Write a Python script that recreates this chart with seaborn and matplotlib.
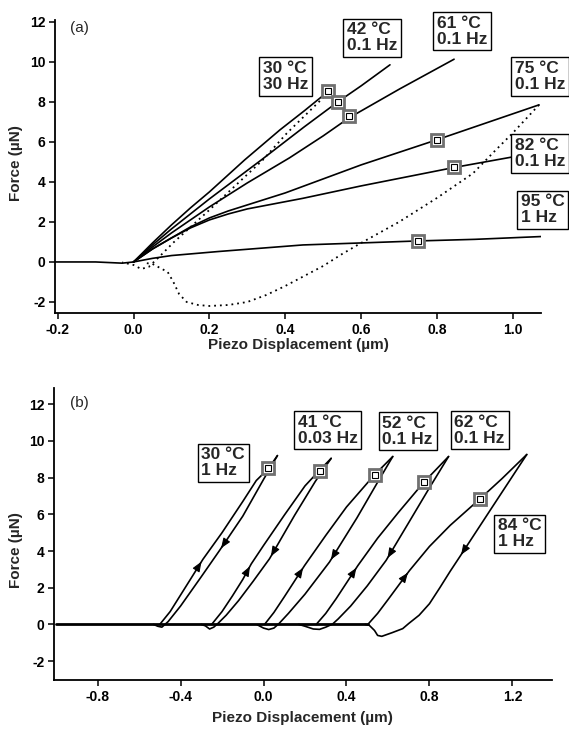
import numpy as np
import seaborn as sns
import matplotlib.pyplot as plt

sns.set_theme(style="ticks")
plt.rcParams['font.family'] = ['Liberation Sans', 'DejaVu Sans']
plt.rcParams['font.weight'] = 'bold'
plt.rcParams['axes.labelweight'] = 'bold'
plt.rcParams['axes.unicode_minus'] = False

# ---- panel (a): loading curves at several temperatures ----
a_labels = ["30 °C\n30 Hz", "42 °C\n0.1 Hz", "61 °C\n0.1 Hz", "75 °C\n0.1 Hz", "82 °C\n0.1 Hz", "95 °C\n1 Hz"]
a_x = [
    [0, 0.05, 0.1, 0.15, 0.2, 0.293, 0.386, 0.45, 0.513],
    [0, 0.05, 0.1, 0.2, 0.337, 0.45, 0.538, 0.6, 0.676],
    [0, 0.05, 0.1, 0.2, 0.3, 0.411, 0.5, 0.568, 0.702, 0.845],
    [0, 0.05, 0.1, 0.15, 0.2, 0.25, 0.3, 0.35, 0.4, 0.45, 0.6, 0.799, 1.069],
    [0, 0.05, 0.1, 0.15, 0.2, 0.25, 0.3, 0.4465, 0.6, 0.845, 1.0, 1.07],
    [0, 0.05, 0.1, 0.2225, 0.4465, 0.6, 0.75, 0.9, 1.075],
]
a_y = [
    [0, 0.95, 1.85, 2.7, 3.5, 5.1, 6.6, 7.55, 8.52],
    [0, 0.85, 1.65, 3.15, 5.1, 6.75, 7.99, 8.8, 9.85],
    [0, 0.75, 1.45, 2.75, 3.95, 5.2, 6.3, 7.2, 8.65, 10.13],
    [0, 0.65, 1.2, 1.75, 2.2, 2.55, 2.85, 3.15, 3.45, 3.8, 4.85, 6.1, 7.85],
    [0, 0.65, 1.2, 1.7, 2.1, 2.4, 2.65, 3.18, 3.8, 4.72, 5.25, 5.4],
    [0, 0.18, 0.32, 0.52, 0.85, 0.95, 1.05, 1.13, 1.27],
]
a_mark_x = [0.513, 0.538, 0.568, 0.799, 0.845, 0.75]
a_mark_y = [8.52, 7.99, 7.3, 6.1, 4.72, 1.05]
# dotted unloading traces (30 C and 75 C)
a_dot_x = [
    [0.513, 0.404, 0.341, 0.2, 0.104, 0.07, 0.04, 0.02, 0.0, -0.03],
    [1.069, 1.0, 0.95, 0.895, 0.8, 0.7, 0.6, 0.55, 0.5, 0.44, 0.4, 0.35, 0.3, 0.25, 0.2, 0.17,
     0.14, 0.12, 0.105, 0.09, 0.07, 0.05, 0.03],
]
a_dot_y = [
    [8.45, 6.43, 5.1, 2.6, 0.95, 0.3, -0.25, -0.35, -0.15, -0.02],
    [7.85, 6.45, 5.5, 4.43, 3.2, 2.0, 0.95, 0.4, -0.2, -0.8, -1.2, -1.65, -2.0, -2.15, -2.2, -2.15,
     -2.0, -1.6, -1.0, -0.5, -0.3, -0.1, -0.05],
]
a_base_x = [-0.207, -0.1, -0.03, 0.0]
a_base_y = [0.0, 0.0, -0.06, 0.0]
a_lab_x = [0.341, 0.562, 0.800, 1.005, 1.005, 1.021]
a_lab_y = [9.28, 11.2, 11.53, 9.28, 5.43, 2.6]

# ---- panel (b): loading/unloading loops ----
b_labels = ["30 °C\n1 Hz", "41 °C\n0.03 Hz", "52 °C\n0.1 Hz", "62 °C\n0.1 Hz", "84 °C\n1 Hz"]
b_load_x = [
    [-0.50, -0.45, -0.40, -0.35, -0.292, -0.2, -0.1, -0.035, 0.024, 0.067],
    [-0.25, -0.2, -0.15, -0.1, -0.059, 0.0, 0.1, 0.2, 0.27, 0.326],
    [0.005, 0.05, 0.1, 0.198, 0.3, 0.4, 0.5, 0.535, 0.623],
    [0.254, 0.3, 0.35, 0.455, 0.55, 0.65, 0.773, 0.892],
    [0.503, 0.55, 0.6, 0.704, 0.8, 0.9, 1.044, 1.15, 1.269],
]
b_load_y = [
    [0, 0.7, 1.6, 2.5, 3.55, 5.0, 6.7, 7.84, 8.5, 9.2],
    [0, 0.7, 1.55, 2.45, 3.3, 4.3, 5.95, 7.55, 8.4, 9.05],
    [0, 0.65, 1.5, 3.21, 4.85, 6.4, 7.7, 8.15, 9.15],
    [0, 0.6, 1.4, 3.21, 4.7, 6.1, 7.75, 9.15],
    [0, 0.6, 1.35, 2.94, 4.25, 5.4, 6.85, 7.95, 9.26],
]
b_unload_x = [
    [0.067, 0.0, -0.1, -0.212, -0.3, -0.4, -0.46, -0.48, -0.49, -0.51, -0.53],
    [0.326, 0.25, 0.15, 0.029, -0.05, -0.12, -0.18, -0.22, -0.24, -0.26, -0.28, -0.3],
    [0.623, 0.55, 0.45, 0.318, 0.2, 0.12, 0.075, 0.05, 0.025, 0.0, -0.03],
    [0.892, 0.8, 0.7, 0.591, 0.5, 0.42, 0.36, 0.333, 0.3, 0.27, 0.24, 0.2, 0.17],
    [1.269, 1.1, 0.945, 0.9, 0.85, 0.8, 0.75, 0.7, 0.671, 0.62, 0.57, 0.55, 0.535, 0.51, 0.49],
]
b_unload_y = [
    [9.2, 7.9, 5.9, 4.03, 2.6, 1.0, 0.15, -0.05, -0.15, -0.1, 0],
    [9.05, 7.8, 5.95, 3.58, 2.35, 1.3, 0.5, 0.05, -0.15, -0.25, -0.08, 0],
    [9.15, 7.75, 5.8, 3.4, 1.65, 0.6, 0.05, -0.2, -0.28, -0.2, -0.02],
    [9.15, 7.45, 5.55, 3.49, 2.1, 1.0, 0.3, 0.02, -0.15, -0.27, -0.25, -0.1, 0],
    [9.26, 6.35, 3.67, 2.9, 2.0, 1.13, 0.5, 0.05, -0.23, -0.45, -0.65, -0.6, -0.33, -0.05, 0],
]
b_arrow_load = [-0.292, -0.059, 0.198, 0.455, 0.704]
b_arrow_unload = [-0.212, 0.029, 0.318, 0.591, 0.945]
b_mark_x = [0.024, 0.27, 0.535, 0.773, 1.044]
b_mark_y = [8.53, 8.35, 8.15, 7.75, 6.85]
b_base_x = [-1.0, -0.5, 0.0, 0.503]
b_base_y = [0.0, 0.0, 0.0, 0.0]
b_lab_x = [-0.299, 0.164, 0.573, 0.920, 1.128]
b_lab_y = [8.80, 10.59, 10.54, 10.59, 4.93]

fig = plt.figure(figsize=(5.69, 7.33), dpi=100)
ax1 = fig.add_axes([0.0967, 0.573, 0.854, 0.400])
ax2 = fig.add_axes([0.0949, 0.0723, 0.875, 0.398])

lw = 1.2
box = dict(boxstyle="square,pad=0.22", fc="white", ec="black", lw=1.0)


def squares(ax, xs, ys):
    ax.plot(xs, ys, 's', ms=9, mfc='white', mec='#707070', mew=2.0, zorder=6, clip_on=False)
    ax.plot(xs, ys, 's', ms=5, mfc='white', mec='black', mew=0.8, zorder=7, clip_on=False)


# panel (a)
sns.lineplot(x=a_base_x, y=a_base_y, ax=ax1, color='black', lw=lw, sort=False, estimator=None)
for xs, ys in zip(a_x, a_y):
    sns.lineplot(x=xs, y=ys, ax=ax1, color='black', lw=lw, sort=False, estimator=None)
for xs, ys in zip(a_dot_x, a_dot_y):
    sns.lineplot(x=xs, y=ys, ax=ax1, color='black', lw=1.3, sort=False, estimator=None,
                 linestyle=(0, (1, 2.2)))
squares(ax1, a_mark_x, a_mark_y)
for t, x, y in zip(a_labels, a_lab_x, a_lab_y):
    ax1.text(x, y, t, ha='left', va='center', fontsize=12.5, fontweight='bold',
             linespacing=1.08, bbox=box, zorder=8)
ax1.text(0.031, 0.973, "(a)", transform=ax1.transAxes, ha='left', va='center',
         fontsize=11, fontweight='normal')
ax1.set_xlim(-0.207, 1.074)
ax1.set_ylim(-2.55, 12.1)
ax1.set_xticks([-0.2, 0.0, 0.2, 0.4, 0.6, 0.8, 1.0])
ax1.set_xticklabels(["-0.2", "0.0", "0.2", "0.4", "0.6", "0.8", "1.0"])

# panel (b)
sns.lineplot(x=b_base_x, y=b_base_y, ax=ax2, color='black', lw=2.0, sort=False, estimator=None)
for i in range(len(b_labels)):
    lx, ly = b_load_x[i], b_load_y[i]
    ux, uy = b_unload_x[i], b_unload_y[i]
    sns.lineplot(x=lx, y=ly, ax=ax2, color='black', lw=lw, sort=False, estimator=None)
    sns.lineplot(x=ux, y=uy, ax=ax2, color='black', lw=lw, sort=False, estimator=None)
    # direction arrows on each branch
    xa = b_arrow_load[i]
    ya = np.interp(xa, lx, ly)
    yb = np.interp(xa - 0.02, lx, ly)
    ax2.annotate("", xy=(xa, ya), xytext=(xa - 0.02, yb),
                 arrowprops=dict(arrowstyle='-|>,head_length=0.5,head_width=0.2',
                                 color='black', lw=0.8, mutation_scale=12))
    xa = b_arrow_unload[i]
    ya = np.interp(xa, ux[::-1], uy[::-1])
    yb = np.interp(xa + 0.02, ux[::-1], uy[::-1])
    ax2.annotate("", xy=(xa, ya), xytext=(xa + 0.02, yb),
                 arrowprops=dict(arrowstyle='-|>,head_length=0.5,head_width=0.2',
                                 color='black', lw=0.8, mutation_scale=12))
squares(ax2, b_mark_x, b_mark_y)
for t, x, y in zip(b_labels, b_lab_x, b_lab_y):
    ax2.text(x, y, t, ha='left', va='center', fontsize=12.5, fontweight='bold',
             linespacing=1.08, bbox=box, zorder=8)
ax2.text(0.032, 0.949, "(b)", transform=ax2.transAxes, ha='left', va='center',
         fontsize=11, fontweight='normal')
ax2.set_xlim(-1.01, 1.39)
ax2.set_ylim(-3.03, 12.87)
ax2.set_xticks([-0.8, -0.4, 0.0, 0.4, 0.8, 1.2])
ax2.set_xticklabels(["-0.8", "-0.4", "0.0", "0.4", "0.8", "1.2"])

for ax in (ax1, ax2):
    ax.set_yticks([-2, 0, 2, 4, 6, 8, 10, 12])
    ax.set_yticklabels(["-2", "0", "2", "4", "6", "8", "10", "12"])
    sns.despine(ax=ax)
    for s in ('left', 'bottom'):
        ax.spines[s].set_linewidth(1.3)
        ax.spines[s].set_color('black')
    ax.tick_params(direction='out', length=4.5, width=1.1, labelsize=10, pad=2.5, colors='black')
    for lab in ax.get_xticklabels() + ax.get_yticklabels():
        lab.set_fontweight('bold')
    ax.set_xlabel("Piezo Displacement (µm)", fontsize=11, fontweight='bold')
    ax.set_ylabel("Force (µN)", fontsize=11, fontweight='bold')
    ax.set_facecolor('white')

ax1.xaxis.set_label_coords(0.5, -0.085)
ax2.xaxis.set_label_coords(0.5, -0.106)
ax1.yaxis.set_label_coords(-0.066, 0.51)
ax2.yaxis.set_label_coords(-0.062, 0.445)

fig.savefig("out.png", dpi=100, facecolor='white')
